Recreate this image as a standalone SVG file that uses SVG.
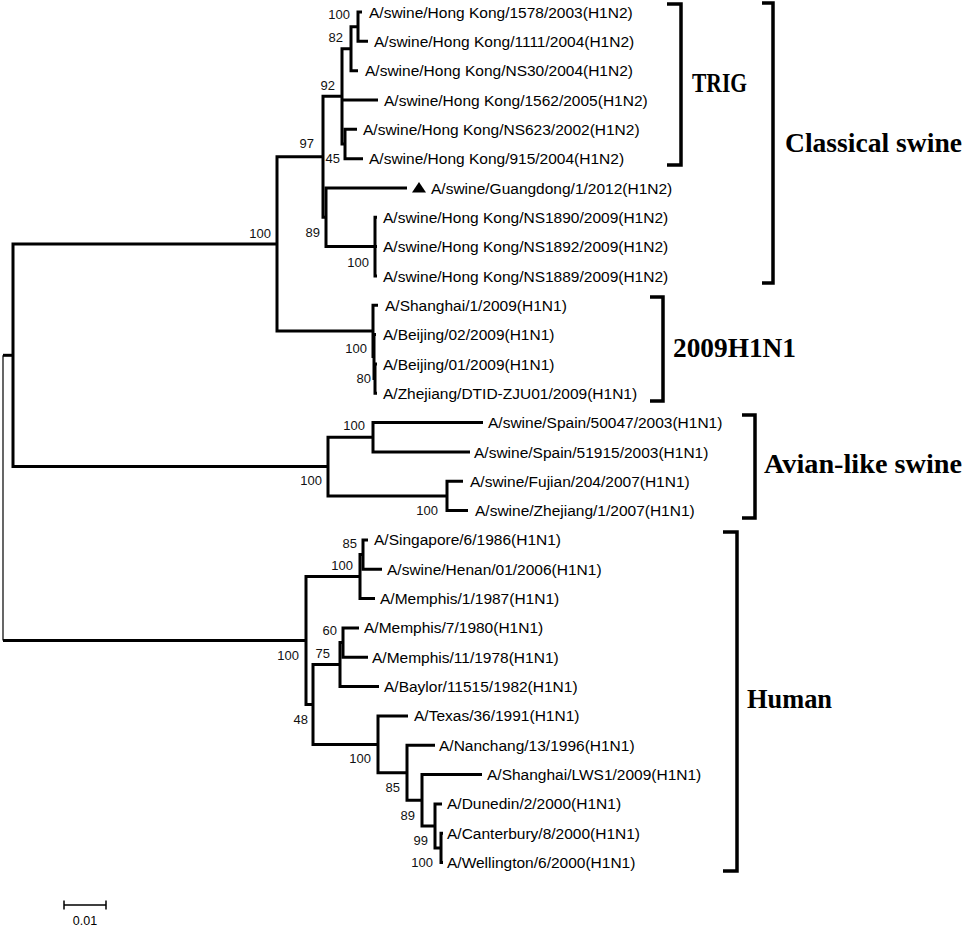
<svg xmlns="http://www.w3.org/2000/svg" width="964" height="927" viewBox="0 0 964 927">
<style>
.br{fill:none;stroke:#000;stroke-width:3;stroke-linejoin:miter;stroke-linecap:butt}
.thin{fill:none;stroke:#000;stroke-width:1.2}
.brk{fill:none;stroke:#000;stroke-width:3.5}
.lf{font-family:"Liberation Sans",Arial,sans-serif;font-size:15.5px;fill:#000}
.bs{font-family:"Liberation Sans",Arial,sans-serif;font-size:13px;fill:#111;text-anchor:end}
.grp{font-family:"Liberation Serif","Times New Roman",serif;font-size:27px;font-weight:bold;fill:#000}
.sc{font-family:"Liberation Sans",Arial,sans-serif;font-size:12.5px;fill:#000;text-anchor:middle}
</style>
<rect width="964" height="927" fill="#fff"/>
<g id="connectors">
<path class="thin" d="M3 355.3 V640.6"/>
<path class="br" d="M13 355.3 H3"/>
<path class="br" d="M3 640.6 H306"/>
<path class="br" d="M277 243.9 H13 V466.6 H328"/>
<path class="br" d="M323 156.8 H277 V331 H373"/>
<path class="br" d="M342 96.3 H323 V217.3 H326"/>
<path class="br" d="M351 48.7 H342 V144 H345 M342 100 H378"/>
<path class="br" d="M358 26.7 H351 V70.7 H358"/>
<path class="br" d="M362 12 H358 V41.3 H368"/>
<path class="br" d="M357 129.3 H345 V158.7 H363"/>
<path class="br" d="M407 188 H326 V246.6 H375"/>
<path class="br" d="M377 217.3 H375 V276 H377 M375 246.6 H377"/>
<path class="br" d="M378 305.3 H373 V356.6 H374"/>
<path class="br" d="M376 334.6 H374 V378.6 H375"/>
<path class="br" d="M377 364 H375 V393.3 H377"/>
<path class="br" d="M373 437.3 H328 V496 H447"/>
<path class="br" d="M483 422.6 H373 V452 H470"/>
<path class="br" d="M463 481.3 H447 V510.6 H468"/>
<path class="br" d="M360 576.6 H306 V704.5 H313"/>
<path class="br" d="M363 554.6 H360 V598.6 H375"/>
<path class="br" d="M368 539.9 H363 V569.3 H382"/>
<path class="br" d="M340 664.6 H313 V744.4 H378"/>
<path class="br" d="M343 642.6 H340 V686.6 H379"/>
<path class="br" d="M359 627.9 H343 V657.3 H368"/>
<path class="br" d="M408 715.9 H378 V772.8 H407"/>
<path class="br" d="M435 745.3 H407 V800.3 H422"/>
<path class="br" d="M482 774.6 H422 V825.9 H435"/>
<path class="br" d="M442 803.9 H435 V847.9 H441"/>
<path class="br" d="M443 833.2 H441 V862.6 H443"/>
</g>
<g id="leaves">
<g id="L0"><text class="lf" x="369" y="17.5">A/swine/Hong Kong/1578/2003(H1N2)</text></g>
<g id="L1"><text class="lf" x="374" y="46.8">A/swine/Hong Kong/1111/2004(H1N2)</text></g>
<g id="L2"><text class="lf" x="365" y="76.2">A/swine/Hong Kong/NS30/2004(H1N2)</text></g>
<g id="L3"><text class="lf" x="384" y="105.5">A/swine/Hong Kong/1562/2005(H1N2)</text></g>
<g id="L4"><text class="lf" x="363" y="134.8">A/swine/Hong Kong/NS623/2002(H1N2)</text></g>
<g id="L5"><text class="lf" x="369" y="164.2">A/swine/Hong Kong/915/2004(H1N2)</text></g>
<g id="L6"><polygon points="412,192.5 426,192.5 419,182" fill="#000"/><text class="lf" x="431" y="193.5">A/swine/Guangdong/1/2012(H1N2)</text></g>
<g id="L7"><text class="lf" x="383" y="222.8">A/swine/Hong Kong/NS1890/2009(H1N2)</text></g>
<g id="L8"><text class="lf" x="383" y="252.1">A/swine/Hong Kong/NS1892/2009(H1N2)</text></g>
<g id="L9"><text class="lf" x="383" y="281.5">A/swine/Hong Kong/NS1889/2009(H1N2)</text></g>
<g id="L10"><text class="lf" x="385" y="310.8">A/Shanghai/1/2009(H1N1)</text></g>
<g id="L11"><text class="lf" x="383" y="340.1">A/Beijing/02/2009(H1N1)</text></g>
<g id="L12"><text class="lf" x="383" y="369.5">A/Beijing/01/2009(H1N1)</text></g>
<g id="L13"><text class="lf" x="383" y="398.8">A/Zhejiang/DTID-ZJU01/2009(H1N1)</text></g>
<g id="L14"><text class="lf" x="488" y="428.1">A/swine/Spain/50047/2003(H1N1)</text></g>
<g id="L15"><text class="lf" x="474" y="457.5">A/swine/Spain/51915/2003(H1N1)</text></g>
<g id="L16"><text class="lf" x="470" y="486.8">A/swine/Fujian/204/2007(H1N1)</text></g>
<g id="L17"><text class="lf" x="475" y="516.1">A/swine/Zhejiang/1/2007(H1N1)</text></g>
<g id="L18"><text class="lf" x="374" y="545.4">A/Singapore/6/1986(H1N1)</text></g>
<g id="L19"><text class="lf" x="387" y="574.8">A/swine/Henan/01/2006(H1N1)</text></g>
<g id="L20"><text class="lf" x="380" y="604.1">A/Memphis/1/1987(H1N1)</text></g>
<g id="L21"><text class="lf" x="364" y="633.4">A/Memphis/7/1980(H1N1)</text></g>
<g id="L22"><text class="lf" x="372" y="662.8">A/Memphis/11/1978(H1N1)</text></g>
<g id="L23"><text class="lf" x="384" y="692.1">A/Baylor/11515/1982(H1N1)</text></g>
<g id="L24"><text class="lf" x="414" y="721.4">A/Texas/36/1991(H1N1)</text></g>
<g id="L25"><text class="lf" x="439" y="750.8">A/Nanchang/13/1996(H1N1)</text></g>
<g id="L26"><text class="lf" x="487" y="780.1">A/Shanghai/LWS1/2009(H1N1)</text></g>
<g id="L27"><text class="lf" x="447" y="809.4">A/Dunedin/2/2000(H1N1)</text></g>
<g id="L28"><text class="lf" x="447" y="838.7">A/Canterbury/8/2000(H1N1)</text></g>
<g id="L29"><text class="lf" x="447" y="868.1">A/Wellington/6/2000(H1N1)</text></g>
</g>
<g id="bootstrap">
<text class="bs" x="350" y="18.5">100</text>
<text class="bs" x="343" y="41.5">82</text>
<text class="bs" x="335" y="89.5">92</text>
<text class="bs" x="314" y="147.5">97</text>
<text class="bs" x="340" y="162.5">45</text>
<text class="bs" x="320" y="236.5">89</text>
<text class="bs" x="369" y="266.5">100</text>
<text class="bs" x="271" y="237.5">100</text>
<text class="bs" x="367" y="352.5">100</text>
<text class="bs" x="371" y="382.5">80</text>
<text class="bs" x="365" y="429.5">100</text>
<text class="bs" x="322" y="484.5">100</text>
<text class="bs" x="438" y="514.5">100</text>
<text class="bs" x="357" y="547.5">85</text>
<text class="bs" x="353" y="569.5">100</text>
<text class="bs" x="337" y="634.5">60</text>
<text class="bs" x="330" y="657.5">75</text>
<text class="bs" x="299" y="659.5">100</text>
<text class="bs" x="308" y="723.5">48</text>
<text class="bs" x="371" y="762.5">100</text>
<text class="bs" x="400" y="791.5">85</text>
<text class="bs" x="415" y="819.5">89</text>
<text class="bs" x="428" y="844.5">99</text>
<text class="bs" x="433" y="866.5">100</text>
</g>
<g id="clade-TRIG"><path class="brk" d="M667 4 H681 V165 H667"/><text class="grp" x="692" y="92" textLength="55" lengthAdjust="spacingAndGlyphs">TRIG</text></g>
<g id="clade-classical"><path class="brk" d="M762 3 H773 V283 H762"/><text class="grp" x="785" y="152" textLength="177" lengthAdjust="spacingAndGlyphs">Classical swine</text></g>
<g id="clade-2009"><path class="brk" d="M650 297 H663 V401 H650"/><text class="grp" x="673" y="357" textLength="123" lengthAdjust="spacingAndGlyphs">2009H1N1</text></g>
<g id="clade-avian"><path class="brk" d="M742 415 H755 V518 H742"/><text class="grp" x="764" y="473" textLength="198" lengthAdjust="spacingAndGlyphs">Avian-like swine</text></g>
<g id="clade-human"><path class="brk" d="M723 532 H737 V871 H723"/><text class="grp" x="747" y="708" textLength="85" lengthAdjust="spacingAndGlyphs">Human</text></g>
<g id="scale-bar"><path class="thin" d="M64 905 H106 M64 900.5 V909.5 M106 900.5 V909.5" style="stroke-width:1.5"/><text class="sc" x="85" y="925">0.01</text></g>
</svg>
